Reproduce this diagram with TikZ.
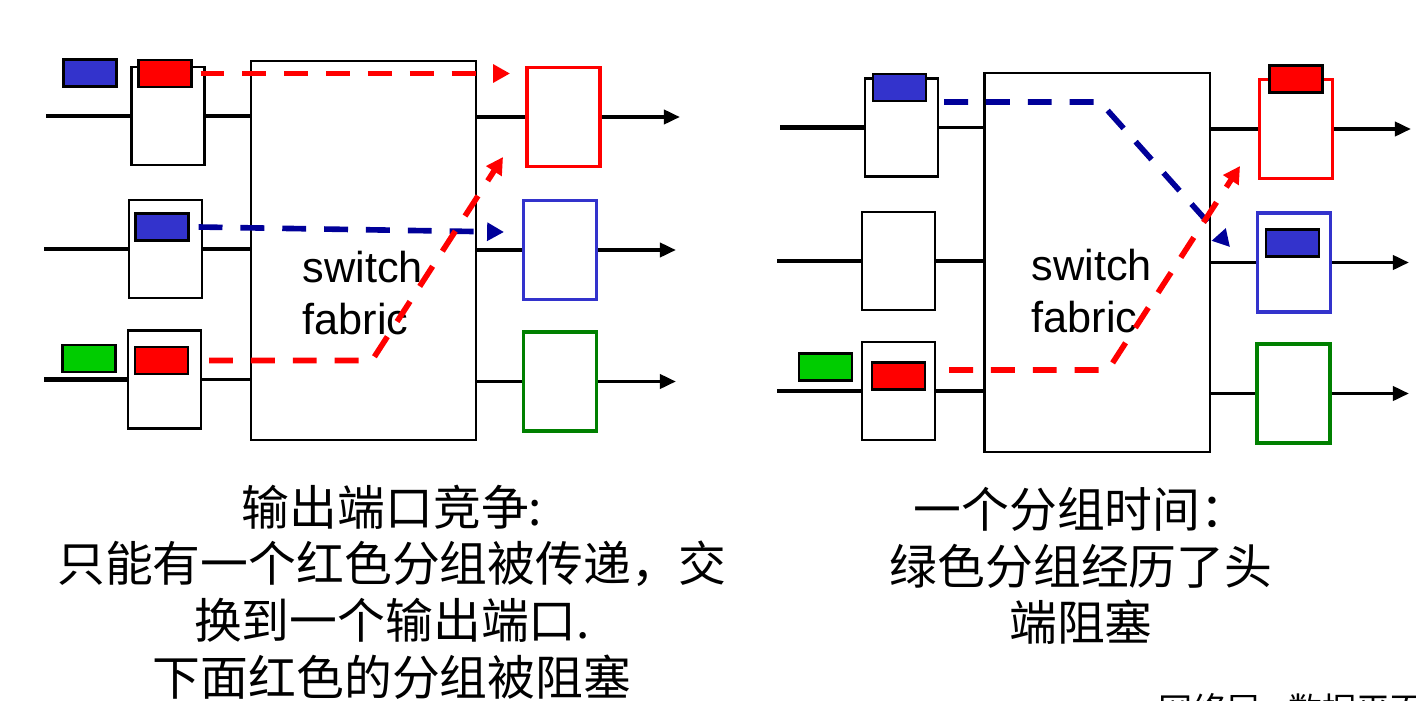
\documentclass[tikz,border=0pt]{standalone}
\usepackage{fontspec}
\usepackage{xcolor}
\usepackage{tikz}
\usetikzlibrary{arrows.meta}
\newfontfamily\cjk{Noto Sans CJK SC}
\newfontfamily\arialfont{Liberation Sans}
\definecolor{pktred}{RGB}{255,0,0}
\definecolor{pktblue}{RGB}{51,51,204}
\definecolor{pktgreen}{RGB}{0,204,0}
\definecolor{pathblue}{RGB}{0,0,153}
\definecolor{boxgreen}{RGB}{0,128,0}

\begin{document}
\begin{tikzpicture}[x=0.01cm, y=-0.01cm,
  inbox/.style={draw, line width=0.6pt, fill=white, minimum width=0.73cm, minimum height=0.98cm, inner sep=0pt},
  outbox/.style={draw=#1, line width=1.1pt, fill=white, minimum width=0.73cm, minimum height=0.99cm, inner sep=0pt},
  pkt/.style={draw, line width=0.6pt, fill=#1, minimum width=0.53cm, minimum height=0.27cm, inner sep=0pt},
  fabric/.style={draw, line width=0.6pt, fill=white, minimum width=2.25cm, minimum height=3.79cm, inner sep=0pt},
  fabtext/.style={font=\arialfont\fontsize{12.3}{14.8}\selectfont, align=left, inner sep=0pt, anchor=west},
  inwire/.style={line width=1.3pt},
  stubwire/.style={line width=1pt},
  outarrow/.style={line width=1.1pt, -{Triangle[length=4.6pt, width=4pt]}},
  route/.style={draw=#1, line width=1.6pt, dash pattern=on 6.8pt off 5.1pt, -{Triangle[length=4.8pt, width=5pt]}},
  caption/.style={font=\cjk\fontsize{13.6}{16.1}\selectfont, align=center, inner sep=0pt}]
  \useasboundingbox (0,0) rectangle (1416,700);
  \clip (0,0) rectangle (1416,700);

  % left: output port contention
  \node[fabric] (fabL) at (363.5,250.5) {};
  \node[fabtext] (txtL) at (302,293) {switch\\fabric};
  \node[inbox] (inL1) at (168,116) {};
  \node[inbox] (inL2) at (165.5,249) {};
  \node[inbox] (inL3) at (164.5,379.5) {};
  \node[outbox=pktred] (outL1) at (563.5,117) {};
  \node[outbox=pktblue] (outL2) at (560,250) {};
  \node[outbox=boxgreen] (outL3) at (560,381.5) {};
  \coordinate (srcL1) at (46,116);
  \coordinate (srcL2) at (44,249);
  \coordinate (srcL3) at (44,379.5);
  \coordinate (dstL1) at (680,117);
  \coordinate (dstL2) at (676,250);
  \coordinate (dstL3) at (676,381.5);
  \draw[inwire] (srcL1) -- (inL1.west);
  \draw[inwire] (srcL2) -- (inL2.west);
  \draw[inwire] (srcL3) -- (inL3.west);
  \draw[stubwire] (inL1.east) -- (fabL.west |- inL1.east);
  \draw[stubwire] (inL2.east) -- (fabL.west |- inL2.east);
  \draw[stubwire] (inL3.east) -- (fabL.west |- inL3.east);
  \draw[stubwire] (fabL.east |- outL1.west) -- (outL1.west);
  \draw[stubwire] (fabL.east |- outL2.west) -- (outL2.west);
  \draw[stubwire] (fabL.east |- outL3.west) -- (outL3.west);
  \draw[outarrow] (outL1.east) -- (dstL1);
  \draw[outarrow] (outL2.east) -- (dstL2);
  \draw[outarrow] (outL3.east) -- (dstL3);
  % packets
  \node[pkt=pktblue] (pL1b) at (90,73) {};
  \node[pkt=pktred] (pL1r) at (165,73.5) {};
  \node[pkt=pktblue] (pL2b) at (162,227) {};
  \node[pkt=pktgreen] (pL3g) at (89,358.5) {};
  \node[pkt=pktred] (pL3r) at (161.5,360.5) {};
  % paths through the fabric
  \coordinate (tipL1) at (510,73.5);
  \coordinate (tipL2) at (504,232);
  \coordinate (bendL3) at (372,360.5);
  \coordinate (tipL3) at (503,157);
  \draw[route=pktred] ([xshift=0.08cm]pL1r.east) -- (tipL1);
  \draw[route=pathblue] ([xshift=0.09cm]pL2b.east) -- (tipL2);
  \draw[route=pktred] ([xshift=0.2cm]pL3r.east) -- (bendL3) -- (tipL3);
  \node[caption] (capL) at (392,592) {输出端口竞争:\\只能有一个红色分组被传递，交\\换到一个输出端口.\\下面红色的分组被阻塞};

  % right: head-of-line blocking
  \node[fabric] (fabR) at (1097,262.5) {};
  \node[fabtext] (txtR) at (1031,291) {switch\\fabric};
  \node[inbox] (inR1) at (901.5,127.5) {};
  \node[inbox] (inR2) at (898.5,261) {};
  \node[inbox] (inR3) at (898.5,391) {};
  \node[outbox=pktred] (outR1) at (1296,129) {};
  \node[outbox=pktblue] (outR2) at (1294,262.5) {};
  \node[outbox=boxgreen] (outR3) at (1293.5,393.5) {};
  \coordinate (srcR1) at (780,127.5);
  \coordinate (srcR2) at (777,261);
  \coordinate (srcR3) at (777,391);
  \coordinate (dstR1) at (1411,129);
  \coordinate (dstR2) at (1409,262.5);
  \coordinate (dstR3) at (1409,393.5);
  \draw[inwire] (srcR1) -- (inR1.west);
  \draw[inwire] (srcR2) -- (inR2.west);
  \draw[inwire] (srcR3) -- (inR3.west);
  \draw[stubwire] (inR1.east) -- (fabR.west |- inR1.east);
  \draw[stubwire] (inR2.east) -- (fabR.west |- inR2.east);
  \draw[stubwire] (inR3.east) -- (fabR.west |- inR3.east);
  \draw[stubwire] (fabR.east |- outR1.west) -- (outR1.west);
  \draw[stubwire] (fabR.east |- outR2.west) -- (outR2.west);
  \draw[stubwire] (fabR.east |- outR3.west) -- (outR3.west);
  \draw[outarrow] (outR1.east) -- (dstR1);
  \draw[outarrow] (outR2.east) -- (dstR2);
  \draw[outarrow] (outR3.east) -- (dstR3);
  % packets
  \node[pkt=pktblue] (pR1b) at (899.5,87.5) {};
  \node[pkt=pktgreen] (pR3g) at (825.5,367) {};
  \node[pkt=pktred] (pR3r) at (898.5,376) {};
  \node[pkt=pktred] (qR1r) at (1296,79) {};
  \node[pkt=pktblue] (qR2b) at (1292.5,243) {};
  % paths through the fabric
  \coordinate (bendR1) at (1100,102);
  \coordinate (tipR1) at (1230,247);
  \coordinate (bendR3) at (1108,370);
  \coordinate (tipR3) at (1240,166);
  \draw[route=pathblue] ([shift={(17,14.5)}]pR1b.east) -- (bendR1) -- (tipR1);
  \draw[route=pktred] ([shift={(23,-6)}]pR3r.east) -- (bendR3) -- (tipR3);
  \node[caption] (capR) at (1081,566) {一个分组时间：\\绿色分组经历了头\\端阻塞};

  % page footer, cut by the edge
  \node[font=\cjk\fontsize{9.7}{11}\selectfont, inner sep=0pt, anchor=west] (foot) at (1158,709) {网络层 - 数据平面};
\end{tikzpicture}
\end{document}
